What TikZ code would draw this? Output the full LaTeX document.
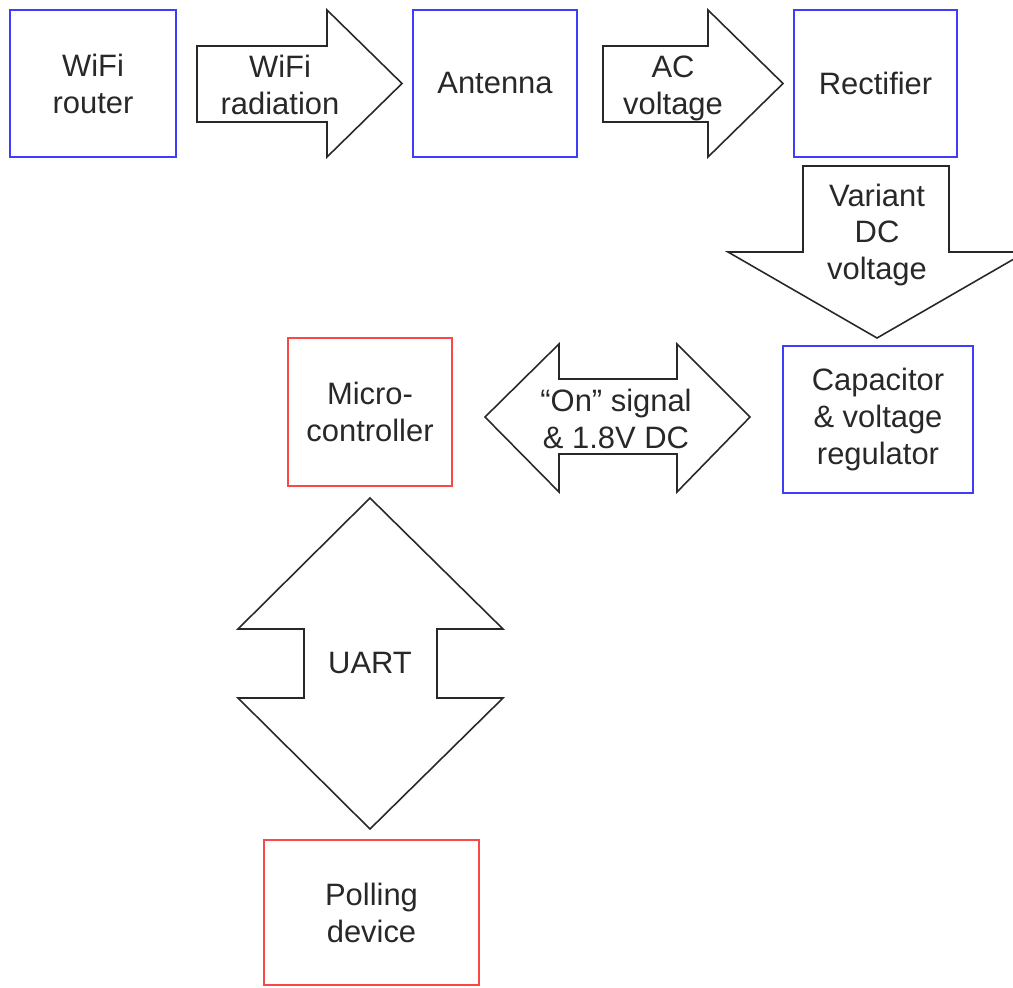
\documentclass[tikz,border=0pt]{standalone}
\usepackage{fontspec}
\setmainfont{Liberation Sans}
\definecolor{boxblue}{RGB}{62,62,250}
\definecolor{boxred}{RGB}{250,72,72}
\definecolor{inkgray}{RGB}{40,40,40}
\begin{document}
\begin{tikzpicture}[x=0.02cm, y=-0.02cm, font=\fontsize{17.6}{21}\selectfont, text=inkgray,
	bluebox/.style={draw=boxblue, line width=1.1pt, align=center, minimum height=2.94cm},
	redbox/.style={draw=boxred, line width=1.1pt, align=center},
	blockarrow/.style={draw=inkgray, line width=0.9pt, line join=miter},
	label/.style={align=center}]
	\useasboundingbox (0,0) rectangle (1013,987);
	% boxes
	\node[bluebox, minimum width=3.32cm] (router) at (93,83.5) {WiFi\\router};
	\node[bluebox, minimum width=3.28cm] (antenna) at (495,83.5) {Antenna};
	\node[bluebox, minimum width=3.26cm] (rectifier) at (875.5,83.5) {Rectifier};
	\node[bluebox, minimum width=3.8cm] (regulator) at (878,419.5) {Capacitor\\\& voltage\\regulator};
	\node[redbox, minimum width=3.28cm, minimum height=2.96cm] (micro) at (370,412) {Micro-\\controller};
	\node[redbox, minimum width=4.3cm, minimum height=2.9cm] (polling) at (371.5,912.5) {Polling\\device};
	% block arrows
	\draw[blockarrow] (197,46) -- (327,46) -- (327,10) -- (402,83.5) -- (327,157) -- (327,122) -- (197,122) -- cycle;
	\draw[blockarrow] (603,46) -- (708,46) -- (708,10) -- (783,83.5) -- (708,157) -- (708,122) -- (603,122) -- cycle;
	\draw[blockarrow] (803,166) -- (949,166) -- (949,252) -- (1026,252) -- (877,338) -- (728,252) -- (803,252) -- cycle;
	\draw[blockarrow] (485,417) -- (559,344) -- (559,379) -- (677,379) -- (677,344) -- (750,417) -- (677,492) -- (677,454) -- (559,454) -- (559,492) -- cycle;
	\draw[blockarrow] (370,498) -- (503,629) -- (437,629) -- (437,698) -- (503,698) -- (370,829) -- (238,698) -- (304,698) -- (304,629) -- (238,629) -- cycle;
	% arrow labels
	\node[label] (radiation) at (280,85) {WiFi\\radiation};
	\node[label] (acvolt) at (673,88) {AC\\voltage};
	\node[label] (dcvolt) at (877,235) {Variant\\DC\\voltage};
	\node[label] (onsignal) at (616,419) {“On” signal\\\& 1.8V DC};
	\node[label] (uart) at (370,663) {UART};
\end{tikzpicture}
\end{document}
